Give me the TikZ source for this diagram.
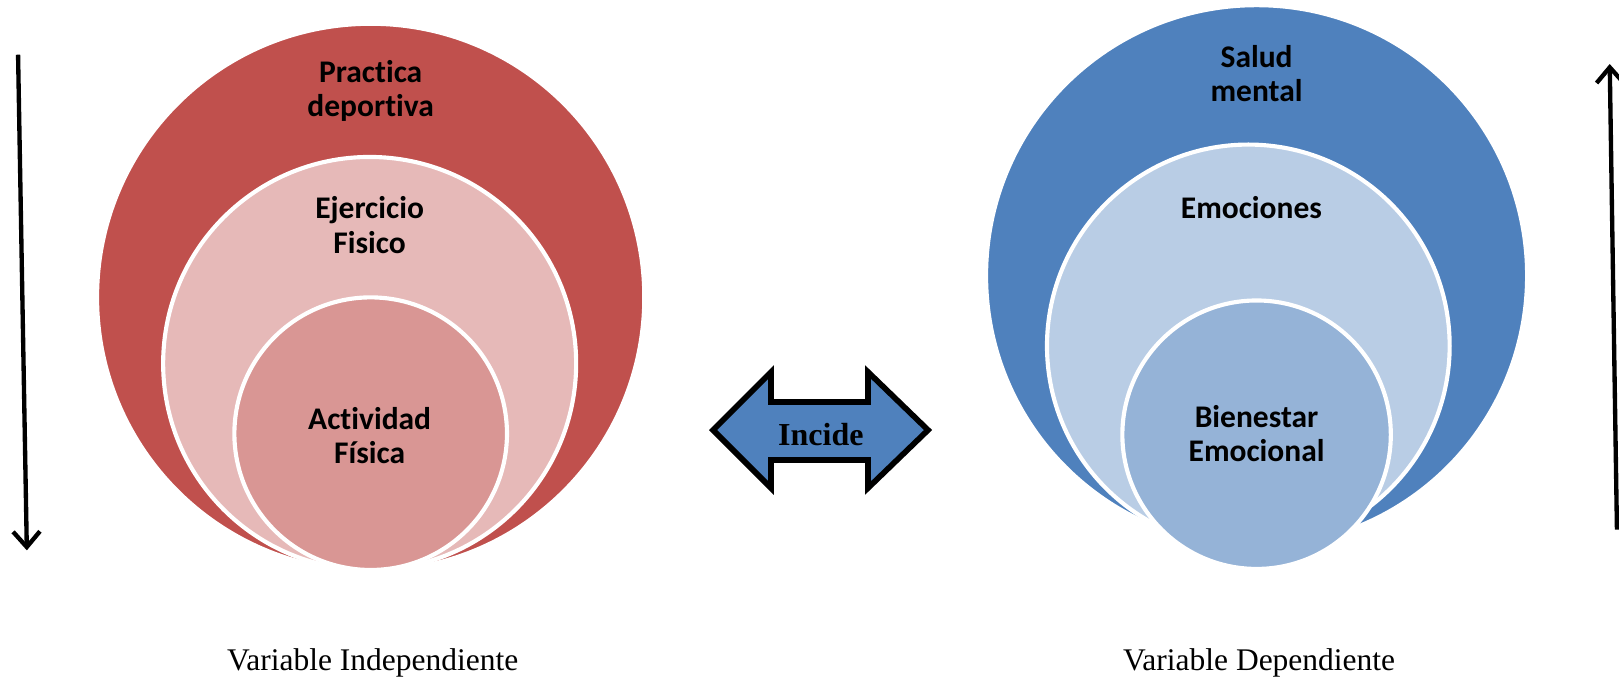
\documentclass[tikz,border=0pt]{standalone}
\usepackage{fontspec}
\setmainfont{Liberation Serif}
\newfontfamily\carlito[Ligatures=NoCommon]{Carlito}
\usetikzlibrary{arrows.meta}
\definecolor{redA}{HTML}{C0504D}
\definecolor{redB}{HTML}{E6B9B8}
\definecolor{redC}{HTML}{D99694}
\definecolor{blueA}{HTML}{4F81BD}
\definecolor{blueB}{HTML}{B9CDE5}
\definecolor{blueC}{HTML}{95B3D7}
\begin{document}
\begin{tikzpicture}[x=1pt,y=-1pt,
  ring/.style={circle, draw=white, line width=4pt, inner sep=0pt},
  lab/.style={font=\carlito\bfseries\fontsize{30.5}{33}\selectfont, align=center, text=black, inner sep=0pt},
  foot/.style={font=\fontsize{30.5}{36}\selectfont, anchor=base, inner sep=0pt},
  vline/.style={line width=4.2pt, black, -{Straight Barb[length=15pt,width=26pt]}},
  dblarrow/.style={draw=black, fill=blueA, line width=5.5pt, line join=miter}]
\useasboundingbox (0,0) rectangle (1568,659.55);

% left nested circles
\node[ring, fill=redA, minimum size=530pt] (po) at (359,288) {};
\node[ring, fill=redB, minimum size=400pt] (pm) at (358,352) {};
\node[ring, fill=redC, minimum size=264pt] (pi) at (359,420) {};
\node[lab] (t1) at (359,88) {Practica\\deportiva};
\node[lab] (t2) at (358,218) {Ejercicio\\Fisico};
\node[lab] (t3) at (358,422) {Actividad\\Física};

% right nested circles
\node[ring, fill=blueA, minimum size=524pt] (so) at (1217,267) {};
\node[ring, fill=blueB, minimum size=390pt] (sm) at (1209,335) {};
\node[ring, fill=blueC, minimum size=260pt] (si) at (1217,421) {};
\node[lab] (t4) at (1217,71) {Salud\\mental};
\node[lab] (t5) at (1212,201) {Emociones};
\node[lab] (t6) at (1217,420) {Bienestar\\Emocional};

% double arrow
\draw[dblarrow] (690.6,416.5) -- (746.7,360.3) -- (746.7,389.3) -- (840.7,389.3)
  -- (840.7,360.3) -- (898.8,416.5) -- (840.7,472.6) -- (840.7,445.5)
  -- (746.7,445.5) -- (746.7,472.6) -- cycle;
\node[font=\bfseries\fontsize{31}{36}\selectfont, inner sep=0pt] (inc) at (795,421) {Incide};

% vertical arrows
\coordinate (la1) at (17.5,53);
\coordinate (la2) at (26,533);
\draw[vline] (la1) -- (la2);
\coordinate (ra1) at (1566,513);
\coordinate (ra2) at (1559,62);
\draw[vline] (ra1) -- (ra2);

% footer labels
\node[foot] (vi) at (361,649) {Variable Independiente};
\node[foot] (vd) at (1219.5,649) {Variable Dependiente};
\end{tikzpicture}
\end{document}
